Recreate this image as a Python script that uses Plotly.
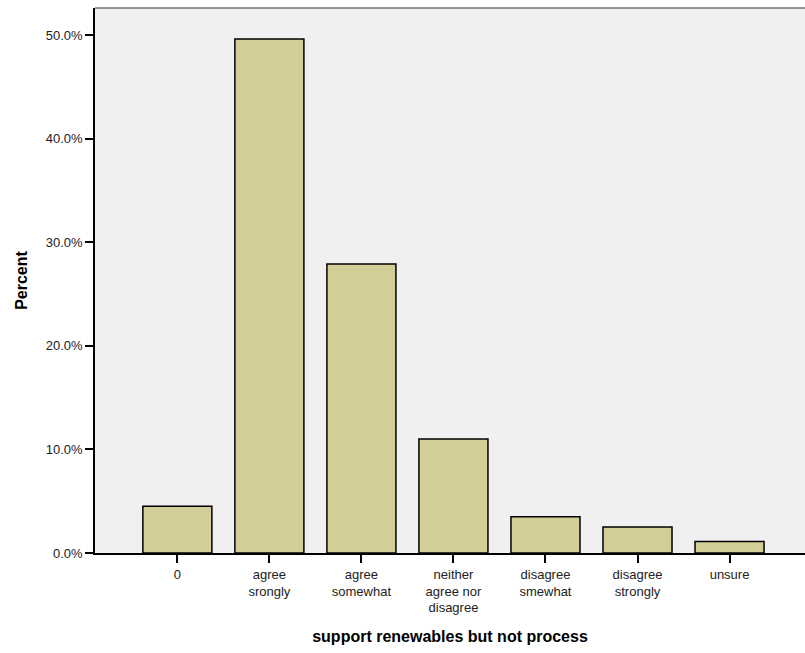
import plotly.graph_objects as go

categories = ["0", "agree<br>srongly", "agree<br>somewhat", "neither<br>agree nor<br>disagree",
              "disagree<br>smewhat", "disagree<br>strongly", "unsure"]
percent = [4.5, 49.6, 27.9, 11.0, 3.5, 2.5, 1.1]
y_ticks = [0, 10, 20, 30, 40, 50]

FONT = "Liberation Sans, Arial, sans-serif"

fig = go.Figure(go.Bar(
    x=list(range(len(categories))),
    y=percent,
    marker=dict(color="#d3ce98", line=dict(color="#000000", width=1.5)),
    width=0.75,
))

fig.update_layout(
    width=805, height=653,
    margin=dict(l=95, r=0, t=8, b=100, autoexpand=False),
    paper_bgcolor="white",
    plot_bgcolor="#f0f0f0",
    showlegend=False,
    font=dict(family=FONT, size=13, color="#222222"),
    xaxis=dict(
        automargin=False,
        tickmode="array",
        tickvals=list(range(len(categories))),
        ticktext=categories,
        range=[-0.895, 6.82],
        showgrid=False, zeroline=False,
        showline=True, linecolor="black", linewidth=2,
        ticks="outside", ticklen=8, tickwidth=1.5, tickcolor="black",
        tickfont=dict(size=13),
        title=dict(text="<b>support renewables but not process</b>",
                   font=dict(size=16, color="black"), standoff=16),
    ),
    yaxis=dict(
        automargin=False,
        range=[0, 52.6],
        tickmode="array",
        tickvals=y_ticks,
        ticktext=[f"{v:.1f}%" for v in y_ticks],
        showgrid=False, zeroline=False,
        showline=True, linecolor="black", linewidth=1.5,
        ticks="outside", ticklen=8, tickwidth=1.5, tickcolor="black",
        tickfont=dict(size=13),
        title=dict(text="<b>Percent</b>", font=dict(size=16, color="black"), standoff=14),
    ),
    shapes=[dict(type="line", xref="paper", yref="paper", x0=0, x1=1, y0=1, y1=1,
                 line=dict(color="#333333", width=1))],
)

fig.write_html("out.html", config={"displayModeBar": False})

# remove default page margin so the figure starts at the window's top-left corner
with open("out.html", "r", encoding="utf-8") as f:
    html = f.read()
html = html.replace("<head>", "<head><style>html,body{margin:0;padding:0;overflow:hidden;}</style>", 1)
with open("out.html", "w", encoding="utf-8") as f:
    f.write(html)
